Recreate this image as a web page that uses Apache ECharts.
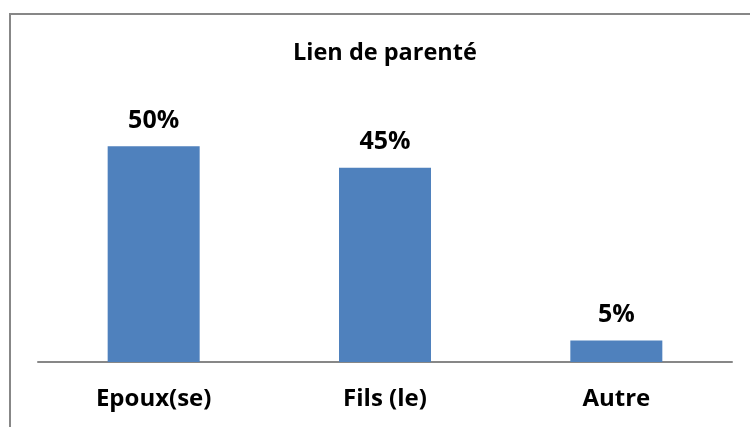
<!DOCTYPE html>
<html>
<head>
<meta charset="utf-8">
<script src="https://cdn.jsdelivr.net/npm/echarts@6/dist/echarts.min.js"></script>
<style>
  html, body { margin: 0; padding: 0; background: #fff; }
  #chart { width: 750px; height: 427px; }
</style>
</head>
<body>
<div id="chart"></div>
<script>
// données
var categories = ['Epoux(se)', 'Fils (le)', 'Autre'];
var values = [50, 45, 5];
var titleText = 'Lien de parenté';

var chartDom = document.getElementById('chart');
var myChart = echarts.init(chartDom);
var font = '"Open Sans", Lato, sans-serif';

var option = {
  animation: false,
  title: {
    text: titleText,
    left: 288,
    top: 36,
    textStyle: { fontFamily: font, fontWeight: 'bold', fontSize: 23.5, color: '#000' }
  },
  // cadre gris (seuls les bords gauche et haut sont visibles)
  graphic: [
    {
      type: 'rect',
      shape: { x: 10, y: 14, width: 800, height: 500 },
      style: { fill: 'none', stroke: '#878787', lineWidth: 2 },
      silent: true
    }
  ],
  grid: { left: 38, right: 18, top: 103, bottom: 65 },
  xAxis: {
    type: 'category',
    data: categories,
    axisTick: { show: false },
    axisLine: { lineStyle: { color: '#878787', width: 2 } },
    axisLabel: {
      margin: 25,
      fontFamily: font,
      fontWeight: 'bold',
      fontSize: 24,
      color: '#000'
    }
  },
  yAxis: {
    type: 'value',
    min: 0,
    max: 60,
    show: false,
    splitLine: { show: false }
  },
  series: [
    {
      type: 'bar',
      data: values,
      barWidth: 92,
      itemStyle: { color: '#4f81bd' },
      label: {
        show: true,
        position: 'top',
        distance: 13,
        formatter: '{c}%',
        fontFamily: font,
        fontWeight: 'bold',
        fontSize: 25,
        color: '#000'
      }
    }
  ]
};
option && myChart.setOption(option);
</script>
</body>
</html>
